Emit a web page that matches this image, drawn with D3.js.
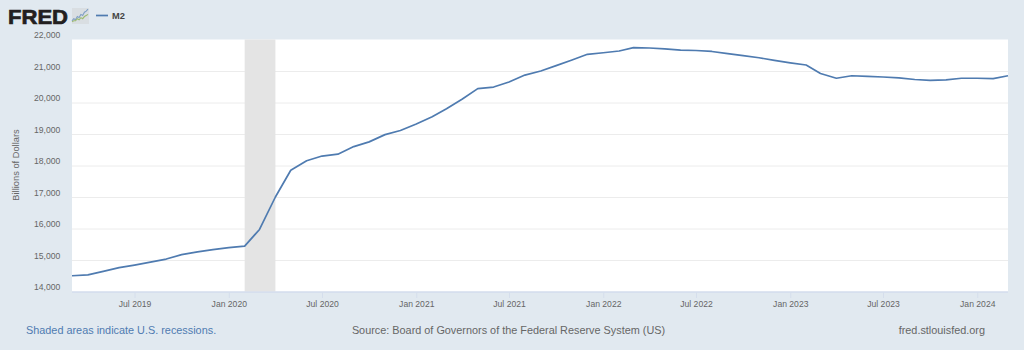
<!DOCTYPE html>
<html>
<head>
<meta charset="utf-8">
<script src="https://cdn.jsdelivr.net/npm/d3@7/dist/d3.min.js"></script>
<style>
html,body{margin:0;padding:0;background:#e1e9f0;overflow:hidden}
svg{display:block}
text{font-family:"Liberation Sans",Arial,sans-serif}
</style>
</head>
<body>
<svg id="c" width="1024" height="350"></svg>
<script>
const startMonth = "2019-03";
const seriesName = "M2";
const m2Values = [
  14500,14530,14640,14760,14840,14930,15030,15170,15260,15330,15390,15440,
  15970,17000,17850,18150,18300,18360,18600,18750,18980,19110,19320,19550,
  19800,20110,20440,20490,20650,20870,21000,21170,21350,21530,21580,21635,
  21740,21730,21700,21660,21650,21620,21550,21490,21420,21340,21260,21190,
  20920,20770,20850,20830,20810,20780,20730,20700,20720,20770,20770,20760,
  20850
];
const yTicks = [14000,15000,16000,17000,18000,19000,20000,21000,22000];
const xTickLabels = ["Jul 2019","Jan 2020","Jul 2020","Jan 2021","Jul 2021","Jan 2022","Jul 2022","Jan 2023","Jul 2023","Jan 2024"];
const recession = ["Feb 2020","Apr 2020"];
const iconBlue = [3,5,4,7,6,9,8,11,12,14];
const iconGreen = [2,3,3,5,4,6,5,7,8,9];

const parseMY = d3.timeParse("%b %Y");
const fmtMY = d3.timeFormat("%b %Y");
const start = d3.timeParse("%Y-%m")(startMonth);
const dates = m2Values.map((_,i)=>d3.timeMonth.offset(start,i));
const L=72,R=1008,T=39.5,B=291.5;
const x = d3.scaleTime().domain([dates[0],dates[dates.length-1]]).range([L,R]);
const y = d3.scaleLinear().domain([14000,22000]).range([B,T]);
const svg = d3.select("#c");
const tickFont = 8.6, tickColor = "#666666";

svg.append("rect").attr("width",1024).attr("height",350).attr("fill","#e1e9f0");
svg.append("rect").attr("x",L).attr("y",T).attr("width",R-L).attr("height",B-T).attr("fill","#fff");

// y gridlines + labels
const yAxis = d3.axisLeft(y).tickValues(yTicks).tickSize(-(R-L)).tickFormat(d3.format(","));
const gy = svg.append("g").attr("transform",`translate(${L},0)`).call(yAxis);
gy.select(".domain").remove();
gy.selectAll(".tick line").attr("stroke","#ececec").attr("stroke-width",1)
  .filter(d=>d===14000||d===22000).remove();
gy.selectAll("text").attr("x",-11.7).attr("y",-1.8).attr("dy",0).attr("font-size",tickFont).attr("fill",tickColor)
  .style("font-family",'"Liberation Sans",Arial,sans-serif');

// recession band
svg.append("rect")
  .attr("x",x(parseMY(recession[0]))).attr("y",T)
  .attr("width",x(parseMY(recession[1]))-x(parseMY(recession[0])))
  .attr("height",B-T).attr("fill","#e4e4e4");

// x axis
const xDates = xTickLabels.map(parseMY);
const xAxis = d3.axisBottom(x).tickValues(xDates).tickSize(6).tickFormat(fmtMY);
const gx = svg.append("g").attr("transform",`translate(0,${B+0.5})`).call(xAxis);
gx.select(".domain").attr("stroke","#ccd6eb").attr("d",`M${L},0H${R}`);
gx.selectAll(".tick line").attr("stroke","#d5deec");
gx.selectAll("text").attr("y",15).attr("dy",0).attr("font-size",tickFont).attr("fill",tickColor)
  .style("font-family",'"Liberation Sans",Arial,sans-serif');

// line
const line = d3.line().x((d,i)=>x(dates[i])).y(d=>y(d));
svg.append("path").datum(m2Values).attr("d",line).attr("fill","none")
  .attr("stroke","#4f7bb0").attr("stroke-width",1.7).attr("stroke-linejoin","round");

// y title
svg.append("text").attr("transform","translate(18.7,165) rotate(-90)").attr("text-anchor","middle")
  .attr("font-size",9.3).attr("fill",tickColor).text("Billions of Dollars");

// logo
svg.append("text").attr("x",8).attr("y",23.5).attr("font-size",21).attr("font-weight",700)
  .attr("fill","#231f20").attr("stroke","#231f20").attr("stroke-width",0.7)
  .attr("textLength",60).attr("lengthAdjust","spacingAndGlyphs").text("FRED");
svg.append("rect").attr("x",72).attr("y",8).attr("width",17).attr("height",16).attr("fill","#d9dee2");
const ix = d3.scaleLinear().domain([0,9]).range([72,88]);
const iy = d3.scaleLinear().domain([0,15]).range([24,8]);
const iline = d3.line().x((d,i)=>ix(i)).y(d=>iy(d));
svg.append("path").attr("d",iline(iconBlue)).attr("fill","none").attr("stroke","#7f9fc4").attr("stroke-width",1.1);
svg.append("path").attr("d",iline(iconGreen)).attr("fill","none").attr("stroke","#9dbb72").attr("stroke-width",1.1);

// legend
svg.append("line").attr("x1",96).attr("x2",108).attr("y1",15.5).attr("y2",15.5).attr("stroke","#4f7bb0").attr("stroke-width",1.7);
svg.append("text").attr("x",112).attr("y",19).attr("font-size",9.3).attr("font-weight",700).attr("fill","#444").text(seriesName);

// footer
svg.append("text").attr("x",26).attr("y",334).attr("font-size",10.87).attr("fill","#4f7bb0").text("Shaded areas indicate U.S. recessions.");
svg.append("text").attr("x",508.5).attr("y",334).attr("text-anchor","middle").attr("font-size",10.87).attr("fill","#666").text("Source: Board of Governors of the Federal Reserve System (US)");
svg.append("text").attr("x",985).attr("y",334).attr("text-anchor","end").attr("font-size",10.87).attr("fill","#666").text("fred.stlouisfed.org");
</script>
</body>
</html>
